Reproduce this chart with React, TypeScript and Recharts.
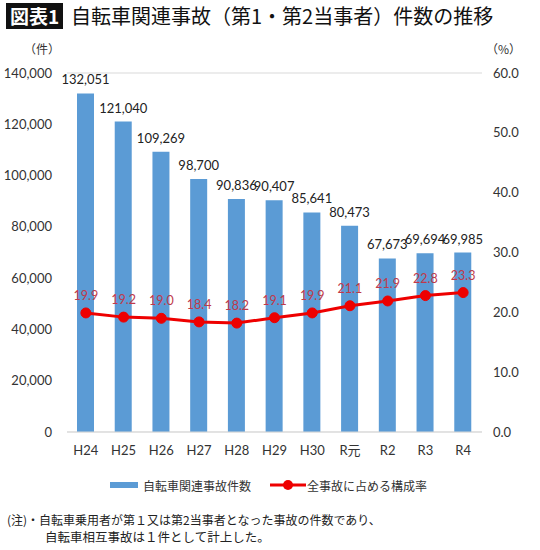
import React from 'react'
import { ComposedChart, Bar, Line, XAxis, YAxis, CartesianGrid, LabelList } from 'recharts'

// 年度ラベル
const years = ['H24', 'H25', 'H26', 'H27', 'H28', 'H29', 'H30', 'R元', 'R2', 'R3', 'R4']
// 自転車関連事故件数
const accidents = [132051, 121040, 109269, 98700, 90836, 90407, 85641, 80473, 67673, 69694, 69985]
// 全事故に占める構成率 (%)
const shares = [19.9, 19.2, 19.0, 18.4, 18.2, 19.1, 19.9, 21.1, 21.9, 22.8, 23.3]

const leftTicks = [0, 20000, 40000, 60000, 80000, 100000, 120000, 140000]
const rightTicks = [0, 10, 20, 30, 40, 50, 60]

const BAR_COLOR = '#5b9bd5'
const LINE_COLOR = '#ee0000'
const FONT = "Lato, 'Noto Sans CJK JP', sans-serif"
const JP_FONT = "'Noto Sans CJK JP', sans-serif"

const data = years.map((year, i) => ({
  year,
  count: accidents[i],
  share: shares[i]
}))

function LegendBox() {
  return (
    <div style={{ position: 'absolute', left: 110, top: 476, height: 18, display: 'flex', alignItems: 'center', fontFamily: JP_FONT, fontSize: 12, color: '#333' }}>
      <span style={{ display: 'inline-block', width: 28, height: 6, background: BAR_COLOR, marginRight: 5 }} />
      <span style={{ marginRight: 19 }}>自転車関連事故件数</span>
      <svg width={36} height={12} style={{ marginRight: 1 }}>
        <line x1={0} y1={6} x2={36} y2={6} stroke={LINE_COLOR} strokeWidth={3} />
        <circle cx={18} cy={6} r={5} fill={LINE_COLOR} />
      </svg>
      <span>全事故に占める構成率</span>
    </div>
  )
}

export default function App() {
  return (
    <div style={{ position: 'fixed', left: 0, top: 0, width: 540, height: 550, background: '#fff', fontFamily: JP_FONT }}>
      {/* Title */}
      <div style={{ position: 'absolute', left: 6, top: 3, height: 26, padding: '0 4px', background: '#111', color: '#fff', fontSize: 19, fontWeight: 700, lineHeight: '26px' }}>
        図表1
      </div>
      <div style={{ position: 'absolute', left: 71, top: 2, fontSize: 20, lineHeight: '28px', color: '#111' }}>
        自転車関連事故（第1・第2当事者）件数の推移
      </div>

      {/* Unit labels */}
      <div style={{ position: 'absolute', left: 24, top: 40, fontSize: 12, color: '#333' }}>（件）</div>
      <div style={{ position: 'absolute', left: 486, top: 40, fontSize: 12, color: '#333' }}>（%）</div>

      <div style={{ position: 'absolute', left: 0, top: 0 }}>
        <ComposedChart
          width={540}
          height={462}
          data={data}
          margin={{ top: 73, right: 0, bottom: 0, left: 0 }}
          barCategoryGap={0}
        >
          <CartesianGrid vertical={false} stroke="#d9d9d9" />
          <XAxis
            dataKey="year"
            tickLine={false}
            tickSize={0}
            tickMargin={14}
            axisLine={{ stroke: '#d9d9d9' }}
            tick={{ fontSize: 13, fill: '#333', fontFamily: FONT }}
            interval={0}
            height={30}
          />
          <YAxis
            yAxisId="left"
            domain={[0, 140000]}
            ticks={leftTicks}
            tickFormatter={(v: number) => v.toLocaleString('en-US')}
            axisLine={false}
            tickLine={false}
            tickSize={0}
            tickMargin={15}
            width={67}
            tick={{ fontSize: 13, fill: '#333', fontFamily: FONT }}
          />
          <YAxis
            yAxisId="right"
            orientation="right"
            domain={[0, 60]}
            ticks={rightTicks}
            tickFormatter={(v: number) => v.toFixed(1)}
            axisLine={false}
            tickLine={false}
            tickSize={0}
            tickMargin={11}
            width={58}
            tick={{ fontSize: 13, fill: '#333', fontFamily: FONT, textAnchor: 'start' }}
          />
          <Bar yAxisId="left" dataKey="count" fill={BAR_COLOR} barSize={17} isAnimationActive={false}>
            <LabelList
              dataKey="count"
              position="top"
              offset={9}
              formatter={(v: number) => v.toLocaleString('en-US')}
              style={{ fontSize: 13, fill: '#222', fontFamily: FONT }}
            />
          </Bar>
          <Line
            yAxisId="right"
            dataKey="share"
            stroke={LINE_COLOR}
            strokeWidth={3}
            dot={{ r: 5, fill: LINE_COLOR, stroke: LINE_COLOR, strokeWidth: 1 }}
            isAnimationActive={false}
          >
            <LabelList
              dataKey="share"
              position="top"
              offset={13}
              formatter={(v: number) => v.toFixed(1)}
              style={{ fontSize: 12.5, fill: '#c0394a', fontFamily: FONT }}
            />
          </Line>
        </ComposedChart>
      </div>

      <LegendBox />

      {/* Note */}
      <div style={{ position: 'absolute', left: 7, top: 511, color: '#222' }}>
        <div style={{ fontSize: 12, lineHeight: '17px', height: 17 }}>(注)・自転車乗用者が第１又は第2当事者となった事故の件数であり、</div>
        <div style={{ paddingLeft: 38, fontSize: 12.5, lineHeight: '17px', height: 17 }}>自転車相互事故は１件として計上した。</div>
      </div>
    </div>
  )
}
